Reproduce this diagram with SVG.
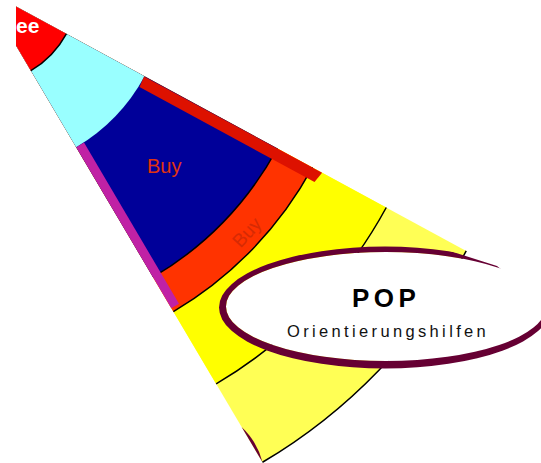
<svg xmlns="http://www.w3.org/2000/svg" width="541" height="463" viewBox="0 0 541 463">
<style>
.arc{fill:none;stroke:#000;stroke-width:1.5}
.lbl{font-family:"Liberation Sans",Arial,sans-serif}
</style>
<defs>
<clipPath id="leftclip"><rect x="16" y="0" width="540" height="470"/></clipPath>
<clipPath id="gap"><path clip-rule="evenodd" d="M0 0H560V470H0Z M450 200 L450 251 L497 266 L560 317.2 L560 200 Z"/></clipPath>
</defs>
<g id="wedge" clip-path="url(#leftclip)">
<path id="band-outer" d="M-18,-12 L466.23,250.92 A551,551 0 0,1 262.48,462.27 Z" fill="#ffff55"/>
<path id="band-yellow" d="M-18,-12 L386.26,207.49 A460,460 0 0,1 216.16,383.94 Z" fill="#ffff00"/>
<path id="band-orange" d="M-18,-12 L312.44,167.41 A376,376 0 0,1 173.40,311.64 Z" fill="#ff3300"/>
<path id="band-blue" d="M-18,-12 L277.28,148.33 A336,336 0 0,1 153.04,277.21 Z" fill="#000099"/>
<path id="band-cyan" d="M-18,-12 L144.58,76.27 A185,185 0 0,1 76.17,147.24 Z" fill="#99ffff"/>
<path id="band-red" d="M-18,-12 L66.37,33.81 A96,96 0 0,1 30.87,70.63 Z" fill="#ff0000"/>
<path class="arc" d="M66.37,33.81 A96,96 0 0,1 30.87,70.63" stroke-width="1.8"/>
<path class="arc" d="M277.28,148.33 A336,336 0 0,1 153.04,277.21"/>
<path class="arc" d="M312.44,167.41 A376,376 0 0,1 173.40,311.64"/>
<path class="arc" d="M386.26,207.49 A460,460 0 0,1 216.16,383.94"/>
<path class="arc" d="M466.23,250.92 A551,551 0 0,1 262.48,462.27"/>
<polygon id="strip-red" points="144,76.5 322.1,172.7 314.5,182 139.5,87" fill="#dd1100"/>
<polygon id="strip-magenta" points="76.2,147.2 171.3,308.3 179,303.7 84,142.6" fill="#c021a5"/>
<path id="crescent" d="M241.6,427 Q257.2,441.6 262.5,462.3 Z" fill="#660033"/>
<text class="lbl" x="16" y="33" font-size="21" font-weight="bold" fill="#ffffff">ee</text>
<text class="lbl" x="147" y="173" font-size="20" fill="#e0330f">Buy</text>
<text class="lbl" x="246.5" y="239" font-size="19" fill="#d62a04" text-anchor="middle" transform="rotate(-47 246.5 232)">Buy</text>
</g>
<g id="connectors"></g>
<g id="node-pop">
<ellipse cx="386" cy="306.5" rx="160" ry="54.5" fill="#ffffff"/>
<path d="M219,307.5 A166,61 0 1,0 551,307.5 A166,61 0 1,0 219,307.5 Z M226,306.5 A160,54.5 0 1,0 546,306.5 A160,54.5 0 1,0 226,306.5 Z" fill="#660033" fill-rule="evenodd" clip-path="url(#gap)"/>
<text class="lbl" x="352" y="307" font-size="26" font-weight="bold" letter-spacing="4.5" fill="#000000">POP</text>
<text class="lbl" x="287" y="337" font-size="16.5" letter-spacing="3.35" fill="#111111">Orientierungshilfen</text>
</g>
</svg>
